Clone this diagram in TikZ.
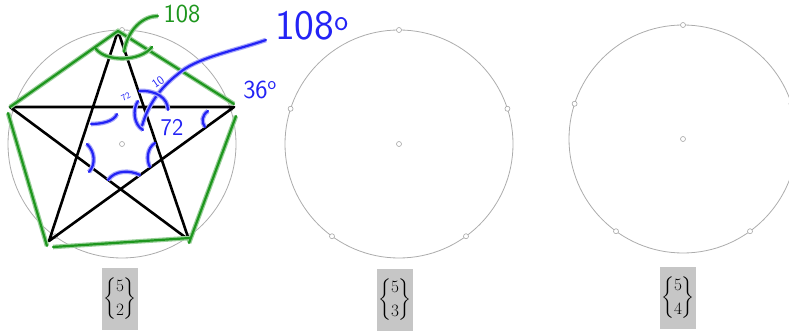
\documentclass[tikz,border=0pt]{standalone}
\usepackage{amsmath}
\usetikzlibrary{positioning}
\definecolor{hgreen}{RGB}{30,150,30}
\definecolor{hblue}{RGB}{35,35,245}
\begin{document}
\begin{tikzpicture}[x=1pt,y=-1pt,
  ring/.style={draw=gray!65,line width=0.8pt},
  pin/.style={circle,draw=gray!70,fill=white,inner sep=0pt,minimum size=5pt,line width=0.6pt},
  symbox/.style={fill=gray!45,minimum width=34pt,minimum height=62pt,inner sep=1pt,font=\fontsize{19}{19}\selectfont},
  starline/.style={line width=2.6pt,line cap=round},
  gpen/.style={hgreen,line width=2.2pt,line cap=round,line join=round,preaction={draw=hgreen!45,line width=4.6pt}},
  bpen/.style={hblue,line width=2.2pt,line cap=round,line join=round,preaction={draw=hblue!40,line width=4.6pt}},
  hand/.style={inner sep=0pt,font=\sffamily}]
\useasboundingbox (0,0) rectangle (789,336);
% three circles with their points
\foreach \n/\cx/\cy in {a/122/144,b/399/144,c/683/139}{
  \node[pin] (\n0) at (\cx,\cy) {};
  \draw[ring] (\n0) circle[radius=114pt];
  \foreach \k/\ang in {1/90,2/18,3/306,4/234,5/162}
    \node[pin] (\n\k) at ({\cx+114*cos(\ang)},{\cy-114*sin(\ang)}) {};
}
% star {5 over 2}
\coordinate (p1) at (118,31); \coordinate (p2) at (234,107); \coordinate (p3) at (189,240);
\coordinate (p4) at (49,241); \coordinate (p5) at (10,107);
\draw[starline] (p1) -- (p3) (p1) -- (p4) (p5) -- (p2) (p5) -- (p3) (p4) -- (p2);
% green notes
\draw[gpen] (p5) -- (p1) -- (234,104);
\draw[gpen] (236,116) -- (189,243) (190,238) -- (53,247) (47,246) -- (8,113);
\draw[gpen] (96,49) .. controls (106,62) and (140,62) .. (152,47);
\draw[gpen] (124,52) .. controls (128,28) and (144,16) .. (158,16);
\node[hand,hgreen,font=\sffamily\fontsize{26}{26}\selectfont] (g108) at (182,14) {108};
% blue notes
\node[hand,hblue,font=\sffamily\fontsize{42}{42}\selectfont] (b108) at (312,26) {108\textsuperscript{o}};
\node[hand,hblue,font=\sffamily\fontsize{26}{26}\selectfont] (b36) at (260,90) {36\textsuperscript{o}};
\node[hand,hblue,font=\sffamily\fontsize{24}{24}\selectfont] (b72) at (172,128) {72};
\node[hand,hblue,font=\sffamily\small,rotate=30] (s72) at (126,97) {72};
\node[hand,hblue,font=\sffamily\large,rotate=35] (s108) at (158,82) {10};
\draw[bpen] (266,40) .. controls (230,52) and (196,58) .. (178,74) .. controls (160,88) and (148,105) .. (142,126);
\draw[bpen] (139,91) .. controls (156,90) and (168,98) .. (168,110);
\draw[bpen] (91,124) .. controls (100,124) and (114,122) .. (117,114);
\draw[bpen] (138,101) .. controls (132,110) and (134,125) .. (143,130);
\draw[bpen] (208,111) .. controls (202,115) and (201,122) .. (205,127);
\draw[bpen] (87,144) .. controls (95,152) and (96,164) .. (89,172);
\draw[bpen] (155,143) .. controls (147,148) and (146,160) .. (150,167);
\draw[bpen] (108,180) .. controls (115,170) and (130,170) .. (140,175);
% the symbols under each circle
\node[symbox] (s2) at (120,299) {$\genfrac\{\}{0pt}{0}{5}{2}$};
\node[symbox] (s3) at (395,300) {$\genfrac\{\}{0pt}{0}{5}{3}$};
\node[symbox] (s4) at (678,298) {$\genfrac\{\}{0pt}{0}{5}{4}$};
\end{tikzpicture}
\end{document}
